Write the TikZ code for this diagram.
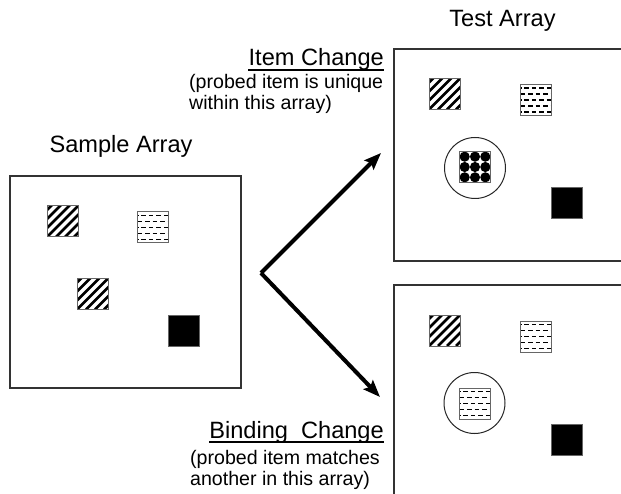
\documentclass[tikz,border=0pt]{standalone}
\usepackage{fontspec}
\setmainfont{Liberation Sans}
\usetikzlibrary{arrows.meta,calc}
\tikzset{
  frame/.style={draw=black!80, line width=1.4pt},
  item/.style={rectangle, minimum size=31pt, inner sep=0pt, draw=black!60, line width=1pt},
  hatchitem/.style={item, path picture={
     \foreach \k in {-4,...,4}
       \draw[line width=2.8pt,black] ($(path picture bounding box.south west)+(\k*9pt,0pt)$) -- ++(45pt,45pt);}},
  dashitem/.style={item, path picture={
     \foreach \r [count=\i] in {3.5,9.5,15.5,21.5,27.5}{
       \pgfmathsetmacro\ph{mod(\i,2)*3.7}
       \draw[line width=1.5pt, black, dash pattern=on 4.5pt off 3pt, dash phase=\ph pt]
         ($(path picture bounding box.north west)+(0pt,-\r pt)$) -- ++(32pt,0pt);}}},
  checkitem/.style={item, path picture={
     \foreach \i in {0,1,2} \foreach \j in {0,1,2}
       \fill[black] ($(path picture bounding box.south west)+({(\i+0.5)*10.333pt},{(\j+0.5)*10.333pt})$) circle[radius=5.1pt];}},
  blackitem/.style={item, fill=black},
  ring/.style={circle, draw=black!85, line width=1pt, minimum size=61pt, inner sep=0pt},
  head/.style={inner sep=0pt, font=\fontsize{23.6}{28}\selectfont},
  sub/.style={inner sep=0pt, font=\fontsize{19.6}{22}\selectfont},
  uline/.style={line width=1.4pt, black},
  arr/.style={line width=4pt, black, line join=miter, -{Stealth[length=17pt,width=13pt,inset=3pt]}}
}
\begin{document}
\begin{tikzpicture}[x=1pt,y=-1pt]
\useasboundingbox (0,0) rectangle (621,494);
\clip (0,0) rectangle (621,494);
\fill[white] (0,0) rectangle (621,494);

% titles
\node[head, anchor=base] (ttest) at (502.5,27) {Test Array};
\node[head, anchor=base] (tsample) at (121,153) {Sample Array};

% sample array
\draw[frame] (10,176) rectangle (241,388);
\node[hatchitem] (sh1) at (62.5,221.5) {};
\node[dashitem]  (sd1) at (153,227.5) {};
\node[hatchitem] (sh2) at (92.5,294) {};
\node[blackitem] (sb1) at (183.5,330.5) {};

% top test array
\draw[frame] (394,49) rectangle (640,261);
\node[hatchitem] (th) at (444.5,94) {};
\node[dashitem]  (td) at (536,100) {};
\node[ring] (tc) at (475,168) {};
\node[checkitem] (tp) at (475,167) {};
\node[blackitem] (tb) at (566.5,203.5) {};

% bottom test array
\draw[frame] (394,285) rectangle (640,520);
\node[hatchitem] (bh) at (444.5,330.5) {};
\node[dashitem]  (bd) at (536,336.5) {};
\node[ring] (bc) at (474.5,403) {};
\node[dashitem] (bp) at (475,403.5) {};
\node[blackitem] (bb) at (566.5,439.5) {};

% labels
\node[head, anchor=base east] (itemchg) at (384,66) {Item Change};
\draw[uline] ([yshift=-4pt]itemchg.base west) -- ([yshift=-4pt]itemchg.base east);
\node[sub, anchor=base west] (isub1) at (189,89) {(probed item is unique};
\node[sub, anchor=base west] (isub2) at (189,110) {within this array)};

\node[head, anchor=base east] (bindchg) at (384,438) {Binding~~Change};
\draw[uline] ([yshift=-4pt]bindchg.base west) -- ([yshift=-4pt]bindchg.base east);
\node[sub, anchor=base west] (bsub1) at (190,464) {(probed item matches};
\node[sub, anchor=base west] (bsub2) at (190,485) {another in this array)};

% arrows
\coordinate (fork) at (261,273);
\coordinate (tipA) at (381,153);
\coordinate (tipB) at (380,397);
\draw[arr] (fork) -- (tipA);
\draw[arr] (fork) -- (tipB);
\end{tikzpicture}
\end{document}
